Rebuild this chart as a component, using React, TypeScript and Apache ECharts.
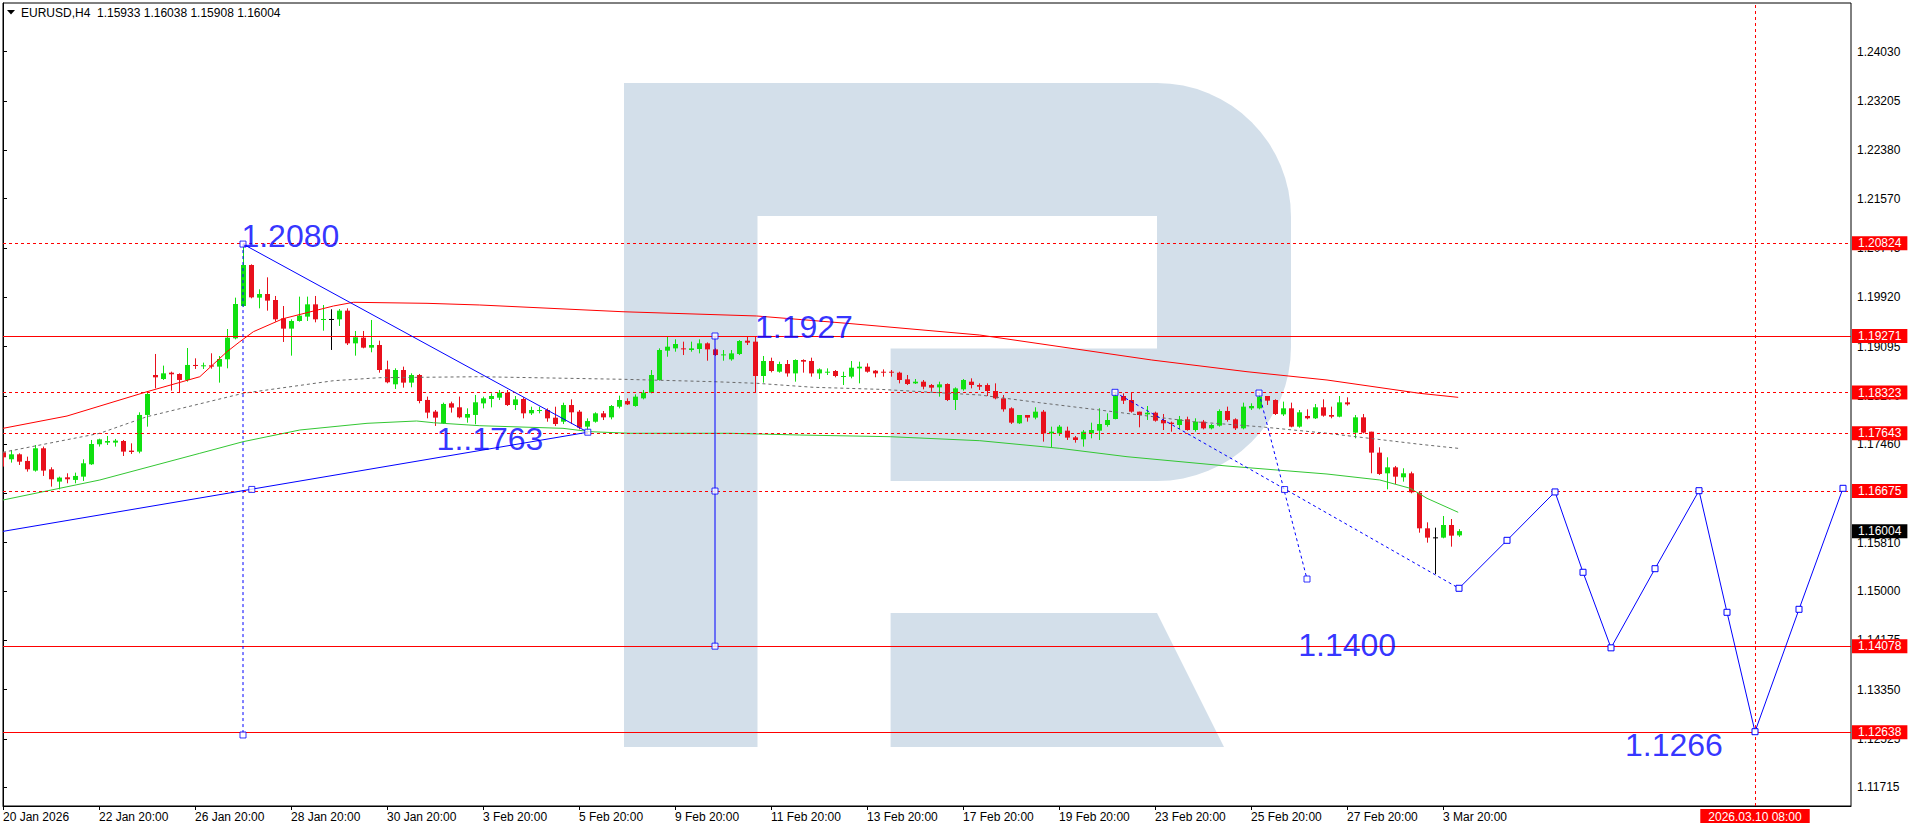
import React, { useEffect, useRef } from "react";
import * as echarts from "echarts";

// ---------- DATA ----------
const candleOpen = [
  1.17324, 1.17207, 1.1729, 1.17179, 1.17017, 1.17391, 1.17039, 1.16833, 1.16905, 1.16861,
  1.16916, 1.17123, 1.17458, 1.17486, 1.17486, 1.17513, 1.17352, 1.17335, 1.17949, 1.18618,
  1.18551, 1.18657, 1.18635, 1.18535, 1.18786, 1.18769, 1.1878, 1.18758, 1.18881, 1.19232,
  1.19773, 1.2046, 1.19913, 1.19974, 1.19874, 1.19567, 1.19394, 1.19522, 1.19595, 1.19801,
  1.19539, 1.19556, 1.1955, 1.19695, 1.19148, 1.19243, 1.19076, 1.1912, 1.18713, 1.18462,
  1.18702, 1.1849, 1.18618, 1.182, 1.18005, 1.17809, 1.18144, 1.18077, 1.17904, 1.17949,
  1.18143, 1.18216, 1.18238, 1.18322, 1.18115, 1.18216, 1.17976, 1.1802, 1.18032, 1.17903,
  1.17836, 1.18115, 1.18004, 1.17753, 1.17836, 1.17976, 1.17909, 1.18087, 1.18182, 1.18099,
  1.18227, 1.18322, 1.18534, 1.19025, 1.19064, 1.19064, 1.19036, 1.19053, 1.19148, 1.19047,
  1.18952, 1.1888, 1.18969, 1.19192, 1.19176, 1.18601, 1.18852, 1.18673, 1.18802, 1.18645,
  1.18869, 1.18852, 1.18645, 1.18657, 1.18685, 1.1859, 1.1859, 1.18729, 1.18757, 1.1869,
  1.18673, 1.18673, 1.18657, 1.18545, 1.18478, 1.18506, 1.1845, 1.18411, 1.18467, 1.18199,
  1.18378, 1.18506, 1.1845, 1.1845, 1.1835, 1.18227, 1.1806, 1.17809, 1.17948, 1.17904,
  1.18004, 1.17641, 1.17641, 1.17686, 1.17574, 1.17541, 1.17641, 1.17686, 1.17781, 1.17881,
  1.18266, 1.18199, 1.18004, 1.17959, 1.17987, 1.17865, 1.1782, 1.17781, 1.17876, 1.17697,
  1.17837, 1.17725, 1.1777, 1.18015, 1.17876, 1.17725, 1.1806, 1.1806, 1.18266, 1.18199,
  1.17959, 1.1806, 1.17753, 1.17932, 1.17893, 1.18077, 1.17948, 1.1792, 1.1816, 1.17653,
  1.17909, 1.17669, 1.17318, 1.16972, 1.17072, 1.16905, 1.16972, 1.16648, 1.16051, 1.159,
  1.15895, 1.16107, 1.15933,
];
const candleHigh = [
  1.17335, 1.17363, 1.17307, 1.17251, 1.17446, 1.17419, 1.17073, 1.16916, 1.16972, 1.16983,
  1.17207, 1.1753, 1.17552, 1.17597, 1.17547, 1.1753, 1.17474, 1.17993, 1.18339, 1.1897,
  1.18775, 1.18674, 1.18646, 1.1907, 1.18897, 1.18825, 1.18981, 1.18936, 1.19388, 1.19913,
  1.2081, 1.20471, 1.20052, 1.20253, 1.19941, 1.19773, 1.1955, 1.1993, 1.1993, 1.19941,
  1.1979, 1.19718, 1.19723, 1.19734, 1.19355, 1.19355, 1.19539, 1.19193, 1.18858, 1.1873,
  1.18758, 1.18646, 1.18635, 1.18256, 1.18032, 1.18155, 1.18172, 1.18256, 1.1806, 1.18284,
  1.18255, 1.18311, 1.18367, 1.18367, 1.18266, 1.18244, 1.18087, 1.18087, 1.18059, 1.18087,
  1.18154, 1.1821, 1.18032, 1.17892, 1.17993, 1.18015, 1.18115, 1.18272, 1.18227, 1.18294,
  1.18367, 1.18701, 1.19064, 1.19259, 1.19215, 1.19176, 1.19176, 1.19215, 1.19164, 1.19064,
  1.19036, 1.19036, 1.19203, 1.19259, 1.19268, 1.18936, 1.18908, 1.18841, 1.18869, 1.1888,
  1.1888, 1.18908, 1.18729, 1.18729, 1.18701, 1.18673, 1.18852, 1.18841, 1.18813, 1.18701,
  1.18712, 1.18701, 1.18673, 1.18618, 1.18551, 1.18534, 1.18467, 1.18506, 1.18478, 1.18411,
  1.18551, 1.18562, 1.18478, 1.18478, 1.18478, 1.18283, 1.18077, 1.17948, 1.17948, 1.18077,
  1.18032, 1.17753, 1.17781, 1.17753, 1.17597, 1.17697, 1.1782, 1.1806, 1.17976, 1.18339,
  1.18311, 1.18328, 1.18004, 1.18099, 1.18004, 1.17965, 1.17837, 1.17932, 1.1792, 1.17893,
  1.17865, 1.17798, 1.18043, 1.18088, 1.17893, 1.18155, 1.18144, 1.18311, 1.18266, 1.18211,
  1.18172, 1.18155, 1.18032, 1.18043, 1.18132, 1.18211, 1.18088, 1.18266, 1.18244, 1.17948,
  1.17965, 1.17669, 1.17407, 1.1724, 1.17095, 1.17056, 1.17, 1.16665, 1.16151, 1.16062,
  1.16257, 1.16207, 1.16038,
];
const candleLow = [
  1.17084, 1.17151, 1.17112, 1.17, 1.17, 1.16928, 1.16749, 1.16704, 1.16805, 1.16805,
  1.16844, 1.17112, 1.17419, 1.17446, 1.17419, 1.17262, 1.17296, 1.17307, 1.17753, 1.18395,
  1.18535, 1.18356, 1.18328, 1.18507, 1.18719, 1.18719, 1.18724, 1.1849, 1.1873, 1.19215,
  1.19762, 1.19902, 1.19734, 1.19695, 1.19511, 1.19171, 1.18942, 1.19511, 1.19522, 1.195,
  1.1936, 1.19037, 1.19439, 1.1912, 1.18942, 1.19065, 1.18998, 1.18657, 1.18479, 1.18384,
  1.18406, 1.18412, 1.18144, 1.17893, 1.17765, 1.17798, 1.17988, 1.17893, 1.1782, 1.17793,
  1.18059, 1.18076, 1.18199, 1.18099, 1.18032, 1.17892, 1.17948, 1.17976, 1.17836, 1.17764,
  1.17797, 1.17797, 1.17708, 1.17669, 1.1782, 1.17864, 1.17875, 1.18059, 1.18115, 1.18087,
  1.1821, 1.18311, 1.18523, 1.18924, 1.19008, 1.18952, 1.19008, 1.1898, 1.18857, 1.18936,
  1.18857, 1.18857, 1.18952, 1.1912, 1.18322, 1.18489, 1.18662, 1.18657, 1.1859, 1.18506,
  1.18657, 1.1859, 1.18551, 1.18618, 1.18579, 1.1845, 1.18562, 1.18478, 1.18657, 1.18579,
  1.1859, 1.1859, 1.18478, 1.1845, 1.18467, 1.18378, 1.18339, 1.18255, 1.18182, 1.18032,
  1.18355, 1.18394, 1.18367, 1.18266, 1.18211, 1.18004, 1.17798, 1.17798, 1.17837, 1.17876,
  1.17502, 1.17407, 1.17597, 1.1753, 1.17485, 1.17418, 1.17558, 1.1753, 1.17753, 1.17876,
  1.18132, 1.17987, 1.17742, 1.17865, 1.17837, 1.17697, 1.17669, 1.17714, 1.17686, 1.17669,
  1.17708, 1.17708, 1.17753, 1.17837, 1.17697, 1.17708, 1.18032, 1.18043, 1.18116, 1.17948,
  1.17932, 1.17742, 1.17736, 1.17876, 1.17881, 1.1792, 1.17893, 1.17909, 1.18105, 1.17558,
  1.17641, 1.16972, 1.16944, 1.16704, 1.16793, 1.16832, 1.16637, 1.15978, 1.15811, 1.15286,
  1.15884, 1.15744, 1.15908,
];
const candleClose = [
  1.1724, 1.1729, 1.17167, 1.17039, 1.17391, 1.17017, 1.16872, 1.169, 1.16872, 1.16928,
  1.1714, 1.17463, 1.17541, 1.17513, 1.17519, 1.17335, 1.17329, 1.17949, 1.183, 1.18579,
  1.18646, 1.1863, 1.18535, 1.18786, 1.18769, 1.1878, 1.18758, 1.18886, 1.19243, 1.19807,
  1.2046, 1.19918, 1.19974, 1.19863, 1.1955, 1.19394, 1.19522, 1.19612, 1.19801, 1.1955,
  1.19556, 1.19556, 1.19695, 1.19148, 1.19249, 1.19076, 1.1912, 1.18702, 1.18496, 1.18702,
  1.1849, 1.18618, 1.18183, 1.17988, 1.17904, 1.18133, 1.18072, 1.1791, 1.17965, 1.18161,
  1.18227, 1.18266, 1.18322, 1.18115, 1.1821, 1.17976, 1.18032, 1.18032, 1.17892, 1.17797,
  1.18115, 1.17993, 1.17736, 1.17847, 1.17976, 1.17909, 1.18099, 1.18199, 1.18126, 1.18255,
  1.18322, 1.18618, 1.19036, 1.19092, 1.19137, 1.19047, 1.19064, 1.19148, 1.19047, 1.18952,
  1.18963, 1.1898, 1.19187, 1.19159, 1.18601, 1.18852, 1.18685, 1.18802, 1.18645, 1.18869,
  1.18841, 1.18645, 1.18712, 1.18673, 1.18601, 1.18601, 1.1874, 1.18757, 1.18673, 1.18645,
  1.18657, 1.18657, 1.18534, 1.18467, 1.18506, 1.18422, 1.18406, 1.18461, 1.18199, 1.18394,
  1.18534, 1.1845, 1.18422, 1.1835, 1.18227, 1.18043, 1.1782, 1.17948, 1.17904, 1.18004,
  1.17641, 1.17669, 1.17753, 1.17569, 1.1753, 1.17669, 1.17697, 1.17798, 1.17865, 1.18272,
  1.18188, 1.18004, 1.17948, 1.17987, 1.17853, 1.17809, 1.17798, 1.17876, 1.17697, 1.17837,
  1.17725, 1.17781, 1.18015, 1.17865, 1.17725, 1.18088, 1.18099, 1.18255, 1.18188, 1.17965,
  1.1806, 1.17753, 1.17993, 1.17893, 1.18077, 1.17937, 1.1792, 1.1816, 1.18127, 1.17909,
  1.17653, 1.17318, 1.16961, 1.17072, 1.16916, 1.16972, 1.16654, 1.16051, 1.15895, 1.159,
  1.16107, 1.15928, 1.16004,
];

const xTickIndex = [0, 12, 24, 36, 48, 60, 72, 84, 96, 108, 120, 132, 144, 156, 168, 180];
const xTickLabels = [
  "20 Jan 2026", "22 Jan 20:00", "26 Jan 20:00", "28 Jan 20:00", "30 Jan 20:00",
  "3 Feb 20:00", "5 Feb 20:00", "9 Feb 20:00", "11 Feb 20:00", "13 Feb 20:00",
  "17 Feb 20:00", "19 Feb 20:00", "23 Feb 20:00", "25 Feb 20:00", "27 Feb 20:00", "3 Mar 20:00",
];
const yTickValues = [
  1.2403, 1.23205, 1.2238, 1.2157, 1.20745, 1.1992, 1.19095, 1.1827, 1.1746, 1.16635,
  1.1581, 1.15, 1.14175, 1.1335, 1.12525, 1.11715,
];

const redMA = [
  [0, 1.17725], [8, 1.17931], [18, 1.18338], [24.6, 1.18589], [28, 1.19008], [29.6, 1.19175],
  [31.3, 1.19343], [35, 1.1956], [41.3, 1.19773], [43.8, 1.19835], [53, 1.19818], [59.6, 1.1979],
  [77.5, 1.19677], [94.2, 1.19606], [105.5, 1.19483], [122.1, 1.19287], [143.6, 1.18869],
  [155.5, 1.18673], [165.5, 1.18534], [177.1, 1.18311], [181.9, 1.18244],
];
const grayMA = [
  [0, 1.17324], [12.1, 1.17642], [18, 1.1792], [30, 1.18311], [41.3, 1.18522], [47.1, 1.18573],
  [59.6, 1.18589], [77.5, 1.18546], [88.8, 1.18506], [94.2, 1.18479], [101.3, 1.18412],
  [109.6, 1.18378], [122.1, 1.18283], [129.6, 1.18154], [138.8, 1.18003], [148.8, 1.17836],
  [157.1, 1.17752], [165.5, 1.17642], [177.1, 1.17458], [181.9, 1.1739],
];
const greenMA = [
  [0, 1.16525], [12.1, 1.1686], [24.6, 1.17307], [30, 1.17501], [37.1, 1.17697], [45.5, 1.17809],
  [51.7, 1.17848], [53.8, 1.17819], [59.6, 1.17769], [70, 1.17725], [73.4, 1.17669],
  [78.4, 1.17642], [90.9, 1.17642], [99.6, 1.17613], [110.9, 1.17585], [122.1, 1.17518],
  [132.1, 1.1739], [140.5, 1.1725], [153, 1.17094], [165.5, 1.1696], [172.1, 1.1686],
  [175.9, 1.16721], [178, 1.16553], [181.9, 1.16319],
];

const levelValues = [1.20824, 1.19271, 1.18323, 1.17643, 1.16675, 1.14078, 1.12638];
const levelDashed = [true, false, true, true, true, false, false];
const currentPrice = 1.16004;
const forecastTimeIndex = 219;
const forecastTimeLabel = "2026.03.10 08:00";
const headerText = "EURUSD,H4\u00a0 1.15933 1.16038 1.15908 1.16004";

const trendDown = [[30, 1.2081], [73.1, 1.1766]];
const trendUp = [[0, 1.16], [73.1, 1.1766]];
const peakDrop = [[30, 1.2081], [30, 1.12591]];
const rangeLine = [[89, 1.19271], [89, 1.14078]];
const channelA = [[139, 1.18328], [182, 1.15047]];
const channelB = [[157, 1.18316], [163, 1.15202]];
const forecastPath = [
  [182, 1.15047], [188, 1.1585], [194, 1.1666], [197.5, 1.15315], [201, 1.1405],
  [206.5, 1.15375], [212, 1.16681], [215.5, 1.14645], [219, 1.12646], [224.5, 1.14695],
  [230, 1.16721],
];
const anchorPoints = [
  [30, 1.2081], [30, 1.12591], [31.1, 1.16702], [73.1, 1.1766], [89, 1.19271], [89, 1.16675],
  [89, 1.14078], [139, 1.18328], [157, 1.18316], [160.2, 1.1670], [163, 1.15202],
];
const noteTexts = ["1.2080", "1.1927", "1..1763", "1.1400", "1.1266"];
const notePositions = [
  [29.8, 1.20948], [94, 1.19418], [54.2, 1.17546], [161.9, 1.14097], [202.75, 1.12423],
];

// ---------- STYLE ----------
const FONT = "'Liberation Sans', Arial, sans-serif";
const BULL = "#10e010";
const BEAR = "#e8101c";
const DOJI = "#000000";
const LINE_RED = "#ff0000";
const BLUE = "#0000ff";
const WATERMARK = "#d3dfea";

export default function App() {
  const ref = useRef<HTMLDivElement>(null);

  useEffect(() => {
    document.body.style.margin = "0";
    const el = ref.current;
    if (!el) return;
    const chart = echarts.init(el, undefined, { renderer: "svg" });

    const candles = candleOpen.map((o, i) => [i, o, candleClose[i], candleLow[i], candleHigh[i]]);

    const boxLabel = (text: string, bg: string, pad: number[], position: string, distance: number) => ({
      show: true,
      position,
      distance,
      formatter: text,
      backgroundColor: bg,
      color: "#fff",
      fontSize: 12,
      fontFamily: FONT,
      lineHeight: 13,
      padding: pad,
    });

    const levelMarks: any[] = levelValues.map((v, i) => ({
      yAxis: v,
      lineStyle: { color: LINE_RED, width: 1, type: levelDashed[i] ? [3, 3] : "solid" },
      label: boxLabel(v.toFixed(5), LINE_RED, [1, 6, 0, 6], "end", 1),
    }));
    levelMarks.push({
      yAxis: currentPrice,
      lineStyle: { color: "rgba(0,0,0,0)", width: 0 },
      label: boxLabel(currentPrice.toFixed(5), "#000", [1, 6, 0, 6], "end", 1),
    });
    levelMarks.push({
      xAxis: forecastTimeIndex,
      lineStyle: { color: LINE_RED, width: 1, type: [3, 3] },
      label: boxLabel(forecastTimeLabel, LINE_RED, [1, 8, 0, 8], "start", 3),
    });

    const blueLine = (name: string, data: number[][], dashed: boolean) => ({
      name,
      type: "line",
      data,
      z: 5,
      symbol: "none",
      silent: true,
      lineStyle: { color: BLUE, width: 1, type: dashed ? [3, 3] : "solid" },
    });

    const option: any = {
      animation: false,
      backgroundColor: "#ffffff",
      grid: {
        left: 3,
        right: 63,
        top: 3,
        bottom: 24,
        show: true,
        borderColor: "#000",
        borderWidth: 1,
        backgroundColor: "transparent",
      },
      xAxis: {
        type: "value",
        min: 0,
        max: 231,
        splitLine: { show: false },
        axisLine: { show: true, lineStyle: { color: "#000" } },
        axisTick: { show: true, customValues: xTickIndex, length: 4, lineStyle: { color: "#000" } },
        axisLabel: {
          customValues: xTickIndex,
          formatter: (v: number) => {
            const k = xTickIndex.indexOf(Math.round(v));
            return k >= 0 ? xTickLabels[k] : "";
          },
          align: "left",
          margin: 5,
          color: "#000",
          fontSize: 12,
          fontFamily: FONT,
          hideOverlap: false,
        },
      },
      yAxis: {
        type: "value",
        position: "right",
        min: 1.11402,
        max: 1.24846,
        scale: true,
        splitLine: { show: false },
        axisLine: { show: true, lineStyle: { color: "#000" } },
        axisTick: { show: true, customValues: yTickValues, length: 4, lineStyle: { color: "#000" } },
        axisLabel: {
          customValues: yTickValues,
          formatter: (v: number) => v.toFixed(5),
          margin: 6,
          color: "#000",
          fontSize: 12,
          fontFamily: FONT,
          hideOverlap: false,
        },
      },
      graphic: [
        {
          type: "group",
          silent: true,
          z: -10,
          children: [
            { type: "rect", shape: { x: 624, y: 83, width: 133.5, height: 664 }, style: { fill: WATERMARK } },
            { type: "rect", shape: { x: 757, y: 83, width: 401, height: 133 }, style: { fill: WATERMARK } },
            { type: "rect", shape: { x: 1157, y: 83, width: 134, height: 398, r: [0, 134, 134, 0] }, style: { fill: WATERMARK } },
            { type: "rect", shape: { x: 890.6, y: 348.5, width: 267, height: 132.5 }, style: { fill: WATERMARK } },
            { type: "polygon", shape: { points: [[890.6, 613], [1157, 613], [1224, 747], [890.6, 747]] }, style: { fill: WATERMARK } },
          ],
        },
        {
          type: "polygon",
          z: 100,
          shape: { points: [[7, 10], [15, 10], [11, 14.5]] },
          style: { fill: "#000" },
        },
        {
          type: "text",
          z: 100,
          x: 21,
          y: 13,
          style: {
            text: headerText,
            fill: "#000",
            fontSize: 12,
            fontFamily: FONT,
            verticalAlign: "middle",
            align: "left",
          },
        },
      ],
      series: [
        {
          name: "candles",
          type: "custom",
          z: 3,
          clip: true,
          silent: true,
          data: candles,
          renderItem: (params: any, api: any) => {
            const idx = api.value(0);
            const o = api.value(1);
            const c = api.value(2);
            const l = api.value(3);
            const h = api.value(4);
            const pO = api.coord([idx, o]);
            const pC = api.coord([idx, c]);
            const pL = api.coord([idx, l]);
            const pH = api.coord([idx, h]);
            const x = Math.round(pO[0]);
            const color = c > o ? BULL : c < o ? BEAR : DOJI;
            const top = Math.min(pO[1], pC[1]);
            const bot = Math.max(pO[1], pC[1]);
            const bodyH = Math.max(1, bot - top);
            return {
              type: "group",
              children: [
                {
                  type: "line",
                  shape: { x1: x + 0.5, y1: pH[1], x2: x + 0.5, y2: pL[1] },
                  style: { stroke: color, lineWidth: 1 },
                },
                {
                  type: "rect",
                  shape: { x: x - 2, y: top, width: 5, height: bodyH },
                  style: { fill: color },
                },
              ],
            };
          },
        },
        {
          name: "ma-red",
          type: "line",
          z: 4,
          data: redMA,
          symbol: "none",
          silent: true,
          lineStyle: { color: LINE_RED, width: 1 },
        },
        {
          name: "ma-gray",
          type: "line",
          z: 4,
          data: grayMA,
          symbol: "none",
          silent: true,
          lineStyle: { color: "#6a6a6a", width: 1, type: [3, 3] },
        },
        {
          name: "ma-green",
          type: "line",
          z: 4,
          data: greenMA,
          symbol: "none",
          silent: true,
          lineStyle: { color: "#33c733", width: 1 },
        },
        {
          name: "levels",
          type: "line",
          z: 4,
          data: [],
          silent: true,
          markLine: {
            silent: true,
            precision: 5,
            symbol: ["none", "none"],
            animation: false,
            data: levelMarks,
          },
        },
        blueLine("trend-down", trendDown, false),
        blueLine("trend-up", trendUp, false),
        blueLine("peak-drop", peakDrop, true),
        blueLine("range", rangeLine, false),
        blueLine("channel-a", channelA, true),
        blueLine("channel-b", channelB, true),
        {
          name: "forecast",
          type: "line",
          z: 6,
          data: forecastPath,
          symbol: "rect",
          symbolSize: 6,
          showSymbol: true,
          silent: true,
          lineStyle: { color: BLUE, width: 1 },
          itemStyle: { color: "#ffffff", borderColor: BLUE, borderWidth: 1 },
        },
        {
          name: "anchors",
          type: "scatter",
          z: 6,
          data: anchorPoints,
          symbol: "rect",
          symbolSize: 6,
          silent: true,
          itemStyle: { color: "#ffffff", borderColor: BLUE, borderWidth: 1 },
        },
        {
          name: "notes",
          type: "scatter",
          z: 7,
          symbolSize: 0,
          silent: true,
          data: notePositions.map((p, i) => ({ value: p, name: noteTexts[i] })),
          label: {
            show: true,
            position: "right",
            distance: 0,
            formatter: (p: any) => p.name,
            color: BLUE,
            fontSize: 32,
            fontFamily: FONT,
          },
        },
      ],
    };

    chart.setOption(option);
    return () => {
      chart.dispose();
    };
  }, []);

  return (
    <div
      ref={ref}
      style={{ position: "absolute", left: 0, top: 0, width: 1914, height: 830, background: "#fff" }}
    />
  );
}
